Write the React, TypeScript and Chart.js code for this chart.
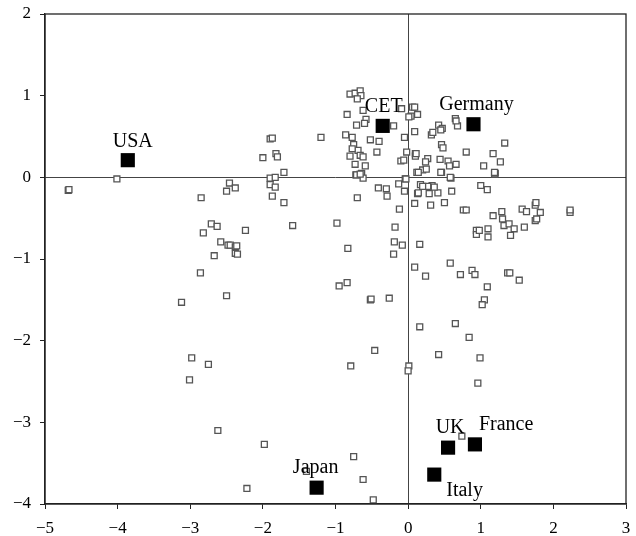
import React, { useEffect, useRef } from "react";
import { Chart, registerables } from "chart.js";
Chart.register(...registerables);

const countryNames = ["USA", "CET", "Germany", "Japan", "UK", "France", "Italy"];
const countryX = [-3.86, -0.35, 0.9, -1.26, 0.55, 0.92, 0.36];
const countryY = [0.21, 0.63, 0.65, -3.8, -3.31, -3.27, -3.64];
// label offsets in px: [dx, dy(baseline), align]
const labelDx = [5, 1, 3, -1, 2, 4, 12];
const labelDy = [-13, -14, -14, -15, -15, -14, 21];
const labelAlign = ["center", "center", "center", "center", "center", "left", "left"];

const smallX = [
  -4.68, -4.67, -4.01,
  -2.46, -2.38, -2.5, -2.85,
  -2.71, -2.63, -2.82, -2.58, -2.48, -2.45, -2.38, -2.38, -2.36, -2.35, -2.67, -2.24,
  -2.86, -2.5, -3.12,
  -2.98, -2.75, -3.01, -2.62,
  -1.98, -2.22, -1.4,
  -1.9, -1.83, -1.9, -1.83, -1.71, -1.87, -1.71, -1.59,
  -1.9, -1.87, -2.0, -1.82, -1.8,
  -1.2,
  -0.98, -0.83, -0.84, -0.95, -0.52, -0.51, -0.26,
  -0.7, -0.72, -0.64, -0.62, -0.41, -0.3, -0.29,
  -0.13, -0.04, -0.05, -0.12, -0.18, -0.19, -0.08, -0.2,
  -0.46, -0.79, 0.01, 0.0, -0.75, -0.62, -0.48,
  -0.8, -0.73, -0.66, -0.65, -0.7, -0.84, -0.62, -0.58, -0.6, -0.71, -0.2,
  -0.09, 0.04, 0.06, 0.09, 0.13, 0.01, 0.09, -0.05,
  -0.86, -0.77, -0.52, -0.4, -0.43,
  -0.75, -0.69, -0.77, -0.66, -0.8, -0.62, -0.73, -0.59, -0.71, -0.66,
  -0.02, -0.1, -0.06, 0.1, 0.1, 0.12, 0.2, -0.03,
  0.09, 0.13, 0.17, 0.16, 0.09, 0.24, 0.16,
  0.46, 0.59, 1.19, 1.2,
  0.33, 0.14, 0.29, 0.41, 0.6, 1.0, 1.09, 0.27, 0.36, 0.2,
  0.31, 0.5, 0.76, 0.8, 1.17, 1.29, 1.3, 1.32, 1.39, 1.46, 1.41, 1.6,
  1.57, 1.63, 1.75, 1.76, 1.82, 1.75, 1.77, 2.23, 2.23,
  0.94, 0.94, 0.98, 1.1, 1.1,
  0.58, 0.72, 0.88, 0.92, 1.37, 1.4, 1.53, 1.09, 1.05, 1.02, 0.65, 0.84,
  0.42, 0.99, 0.96, 0.74,
  0.65, 0.68, 0.66, 0.42, 0.47, 0.45, 0.32, 0.34, 0.46, 0.48, 0.8, 1.33, 1.17, 1.27, 1.19, 1.04,
  0.27, 0.24, 0.25, 0.44, 0.55, 0.57, 0.66, 0.45, 0.14, 0.11, 0.58,
];
const smallY = [
  -0.16, -0.15, -0.02,
  -0.07, -0.13, -0.17, -0.25,
  -0.57, -0.6, -0.68, -0.79, -0.83, -0.83, -0.85, -0.93, -0.84, -0.94, -0.96, -0.65,
  -1.17, -1.45, -1.53,
  -2.21, -2.29, -2.48, -3.1,
  -3.27, -3.81, -3.6,
  -0.01, 0.0, -0.09, -0.12, 0.06, -0.23, -0.31, -0.59,
  0.47, 0.48, 0.24, 0.29, 0.25,
  0.49,
  -0.56, -0.87, -1.29, -1.33, -1.5, -1.49, -1.48,
  -0.25, 0.03, 0.05, -0.01, -0.13, -0.14, -0.23,
  -0.08, -0.02, -0.17, -0.39, -0.61, -0.79, -0.83, -0.94,
  -2.12, -2.31, -2.31, -2.37, -3.42, -3.7, -3.95,
  1.02, 1.03, 1.06, 1.0, 0.96, 0.77, 0.82, 0.71, 0.66, 0.64, 0.63,
  0.84, 0.75, 0.86, 0.86, 0.77, 0.74, 0.56, 0.49,
  0.52, 0.49, 0.46, 0.44, 0.31,
  0.4, 0.33, 0.35, 0.27, 0.26, 0.25, 0.16, 0.14, 0.03, 0.04,
  0.31, 0.2, 0.21, 0.29, 0.26, 0.06, 0.09, -0.02,
  -0.32, -0.2, -0.09, -0.82, -1.1, -1.21, -1.83,
  0.06, -0.01, 0.04, 0.05,
  -0.1, -0.19, -0.2, -0.19, -0.17, -0.1, -0.15, -0.11, -0.12, -0.11,
  -0.34, -0.31, -0.4, -0.4, -0.47, -0.42, -0.51, -0.59, -0.57, -0.63, -0.71, -0.61,
  -0.39, -0.42, -0.34, -0.31, -0.43, -0.53, -0.51, -0.43, -0.4,
  -0.65, -0.7, -0.65, -0.63, -0.73,
  -1.05, -1.19, -1.14, -1.19, -1.17, -1.17, -1.26, -1.34, -1.5, -1.56, -1.79, -1.96,
  -2.17, -2.21, -2.52, -3.17,
  0.72, 0.63, 0.69, 0.64, 0.6, 0.58, 0.52, 0.55, 0.4, 0.36, 0.31, 0.42, 0.29, 0.19, 0.06, 0.14,
  0.23, 0.19, 0.1, 0.22, 0.2, 0.14, 0.16, 0.06, 0.06, 0.29, 0.0,
];

const xTicks = [-5, -4, -3, -2, -1, 0, 1, 2, 3];
const yTicks = [-4, -3, -2, -1, 0, 1, 2];

const FONT = "'Liberation Serif', 'Times New Roman', serif";

const fmt = (v: number) => (v < 0 ? "\u2212" + Math.abs(v) : String(v));

export default function App() {
  const ref = useRef<HTMLCanvasElement | null>(null);
  useEffect(() => {
    if (!ref.current) return;
    const framePlugin = {
      id: "frame",
      afterDatasetsDraw(chart: any) {
        const { ctx, chartArea } = chart;
        ctx.save();
        ctx.strokeStyle = "#222";
        ctx.lineWidth = 1.3;
        ctx.strokeRect(chartArea.left, chartArea.top, chartArea.right - chartArea.left, chartArea.bottom - chartArea.top);
        ctx.restore();
      },
      afterDraw(chart: any) {
        const { ctx } = chart;
        const xs = chart.scales.x;
        const ys = chart.scales.y;
        ctx.save();
        ctx.fillStyle = "#000";
        ctx.font = "20px " + FONT;
        ctx.textBaseline = "alphabetic";
        countryNames.forEach((n, i) => {
          const px = xs.getPixelForValue(countryX[i]);
          const py = ys.getPixelForValue(countryY[i]);
          ctx.textAlign = labelAlign[i] as CanvasTextAlign;
          ctx.fillText(n, px + labelDx[i], py + labelDy[i]);
        });
        ctx.restore();
      },
    };
    const chart = new Chart(ref.current, {
      type: "scatter",
      data: {
        datasets: [
          {
            label: "countries",
            data: countryX.map((x, i) => ({ x, y: countryY[i] })),
            pointStyle: "rect",
            pointRadius: 10,
            backgroundColor: "#000",
            borderColor: "#000",
            borderWidth: 0,
          },
          {
            label: "points",
            data: smallX.map((x, i) => ({ x, y: smallY[i] })),
            pointStyle: "rect",
            pointRadius: 4.2,
            backgroundColor: "#fff",
            borderColor: "#555",
            borderWidth: 1.3,
          },
        ],
      },
      options: {
        animation: false,
        responsive: false,
        maintainAspectRatio: false,
        layout: { padding: { top: 14, right: 4, left: 0, bottom: 0 } },
        plugins: { legend: { display: false }, tooltip: { enabled: false } },
        scales: {
          x: {
            type: "linear",
            min: -5,
            max: 3,
            afterBuildTicks: (s: any) => {
              s.ticks = xTicks.map((v) => ({ value: v }));
            },
            afterFit: (s: any) => {
              s.height = 32;
              s.paddingLeft = 0;
              s.paddingRight = 0;
            },
            ticks: {
              color: "#000",
              font: { family: FONT, size: 17 },
              padding: 9,
              maxRotation: 0,
              autoSkip: false,
              callback: (v: any) => fmt(Number(v)),
            },
            grid: {
              color: (c: any) => (c.tick && c.tick.value === 0 ? "#444" : "rgba(0,0,0,0)"),
              lineWidth: 1,
              tickColor: "#222",
              tickLength: 5,
              drawTicks: true,
            },
            border: { display: true, color: "#222", width: 1.3 },
          },
          y: {
            type: "linear",
            min: -4,
            max: 2,
            afterBuildTicks: (s: any) => {
              s.ticks = yTicks.map((v) => ({ value: v }));
            },
            afterFit: (s: any) => {
              s.width = 45;
              s.paddingTop = 0;
              s.paddingBottom = 0;
            },
            ticks: {
              color: "#000",
              font: { family: FONT, size: 17 },
              padding: 9,
              autoSkip: false,
              callback: (v: any) => fmt(Number(v)),
            },
            grid: {
              color: (c: any) => (c.tick && c.tick.value === 0 ? "#444" : "rgba(0,0,0,0)"),
              lineWidth: 1,
              tickColor: "#222",
              tickLength: 5,
              drawTicks: true,
            },
            border: { display: true, color: "#222", width: 1.3 },
          },
        },
      },
      plugins: [framePlugin],
    } as any);
    return () => chart.destroy();
  }, []);
  return (
    <div style={{ position: "absolute", left: 0, top: 0, width: 636, height: 536, background: "#fff" }}>
      <canvas ref={ref} width={636} height={536} style={{ width: 636, height: 536, display: "block" }} />
    </div>
  );
}
